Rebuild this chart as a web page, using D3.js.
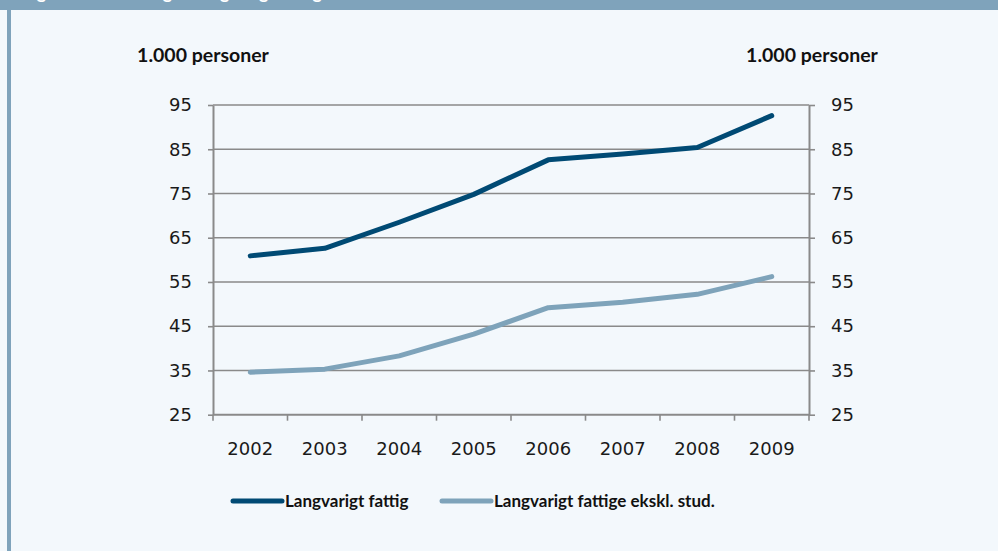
<!DOCTYPE html>
<html>
<head>
<meta charset="utf-8">
<script src="https://cdnjs.cloudflare.com/ajax/libs/d3/7.8.5/d3.min.js"></script>
<style>
  html, body { margin: 0; padding: 0; background: #f3f8fc; }
  svg { display: block; }
  .tick-label { font-family: "DejaVu Sans", sans-serif; font-size: 18px; fill: #1a1a1a; }
  .bold-label { font-family: Lato, "Liberation Sans", sans-serif; font-weight: bold; fill: #111111; }
</style>
</head>
<body>
<div id="chart"></div>
<script>
var years = ["2002", "2003", "2004", "2005", "2006", "2007", "2008", "2009"];
var yTicks = [25, 35, 45, 55, 65, 75, 85, 95];
var fattig = [60.9, 62.6, 68.5, 74.8, 82.6, 83.9, 85.4, 92.6];
var fattigEksklStud = [34.6, 35.3, 38.3, 43.2, 49.2, 50.4, 52.2, 56.2];
var seriesNames = ["Langvarigt fattig", "Langvarigt fattige ekskl. stud."];
var seriesColours = ["#004a74", "#7ea3ba"];
var unitLabel = "1.000 personer";
var titleText = "Figur 3.2 Udvikling af langvarigt fattige";

var width = 998, height = 551;
var plot = {left: 213, right: 809, top: 105, bottom: 414.7};

var svg = d3.select("#chart").append("svg")
  .attr("width", width)
  .attr("height", height);

svg.append("rect")
  .attr("width", width).attr("height", height)
  .attr("fill", "#f3f8fc");

// header band (title is cropped by the top edge, as in the source) and left stripe
svg.append("rect")
  .attr("width", width).attr("height", 10)
  .attr("fill", "#7fa3bb");
svg.append("rect")
  .attr("x", 7).attr("y", 10)
  .attr("width", 4).attr("height", height - 10)
  .attr("fill", "#7fa3bb");
svg.append("text")
  .attr("x", 22).attr("y", -1.5)
  .attr("class", "bold-label")
  .style("font-size", "18px")
  .style("fill", "#ffffff")
  .text(titleText);

var x = d3.scaleBand()
  .domain(years)
  .range([plot.left, plot.right]);

var y = d3.scaleLinear()
  .domain([25, 95])
  .range([plot.bottom, plot.top]);

var grey = "#8a8a8a";

// gridlines
svg.append("g")
  .selectAll("line")
  .data(yTicks.slice(1))
  .enter().append("line")
    .attr("x1", plot.left).attr("x2", plot.right)
    .attr("y1", d => y(d)).attr("y2", d => y(d))
    .attr("stroke", grey)
    .attr("stroke-width", 1.6);

// left axis
var leftAxis = svg.append("g")
  .attr("transform", "translate(" + plot.left + ",0)")
  .call(d3.axisLeft(y).tickValues(yTicks).tickSize(5).tickPadding(16).tickSizeOuter(0));

// right axis
var rightAxis = svg.append("g")
  .attr("transform", "translate(" + plot.right + ",0)")
  .call(d3.axisRight(y).tickValues(yTicks).tickSize(6).tickPadding(16).tickSizeOuter(0));

// bottom axis with ticks on category boundaries
var bottomAxis = svg.append("g")
  .attr("transform", "translate(0," + plot.bottom + ")")
  .call(d3.axisBottom(x).tickSize(0).tickPadding(28));

svg.append("g")
  .selectAll("line")
  .data(d3.range(years.length + 1))
  .enter().append("line")
    .attr("x1", i => plot.left + i * x.step())
    .attr("x2", i => plot.left + i * x.step())
    .attr("y1", plot.bottom).attr("y2", plot.bottom + 6)
    .attr("stroke", grey)
    .attr("stroke-width", 1.6);

[leftAxis, rightAxis, bottomAxis].forEach(function (a) {
  a.select(".domain").attr("stroke", grey).attr("stroke-width", 2);
  a.selectAll(".tick line").attr("stroke", grey).attr("stroke-width", 1.6);
  a.selectAll(".tick text").attr("class", "tick-label").attr("fill", null);
});
bottomAxis.select(".domain").attr("d", "M" + plot.left + ",0H" + plot.right);

// unit labels
[203, 812].forEach(function (cx) {
  svg.append("text")
    .attr("class", "bold-label")
    .attr("x", cx).attr("y", 62)
    .attr("text-anchor", "middle")
    .style("font-size", "19.5px")
    .text(unitLabel);
});

// lines
var line = d3.line()
  .x((d, i) => x(years[i]) + x.bandwidth() / 2)
  .y(d => y(d));

[fattig, fattigEksklStud].forEach(function (values, i) {
  svg.append("path")
    .datum(values)
    .attr("fill", "none")
    .attr("stroke", seriesColours[i])
    .attr("stroke-width", 5)
    .attr("stroke-linecap", "round")
    .attr("stroke-linejoin", "round")
    .attr("d", line);
});

// legend
var legendItems = [{x: 233, name: seriesNames[0], colour: seriesColours[0]},
                   {x: 442, name: seriesNames[1], colour: seriesColours[1]}];
var legend = svg.append("g")
  .selectAll("g")
  .data(legendItems)
  .enter().append("g")
    .attr("transform", d => "translate(" + d.x + ",501)");
legend.append("line")
  .attr("x1", 0).attr("x2", 49)
  .attr("stroke", d => d.colour)
  .attr("stroke-width", 5)
  .attr("stroke-linecap", "round");
legend.append("text")
  .attr("class", "bold-label")
  .attr("x", 52).attr("y", 6)
  .style("font-size", "17px")
  .text(d => d.name);
</script>
</body>
</html>
